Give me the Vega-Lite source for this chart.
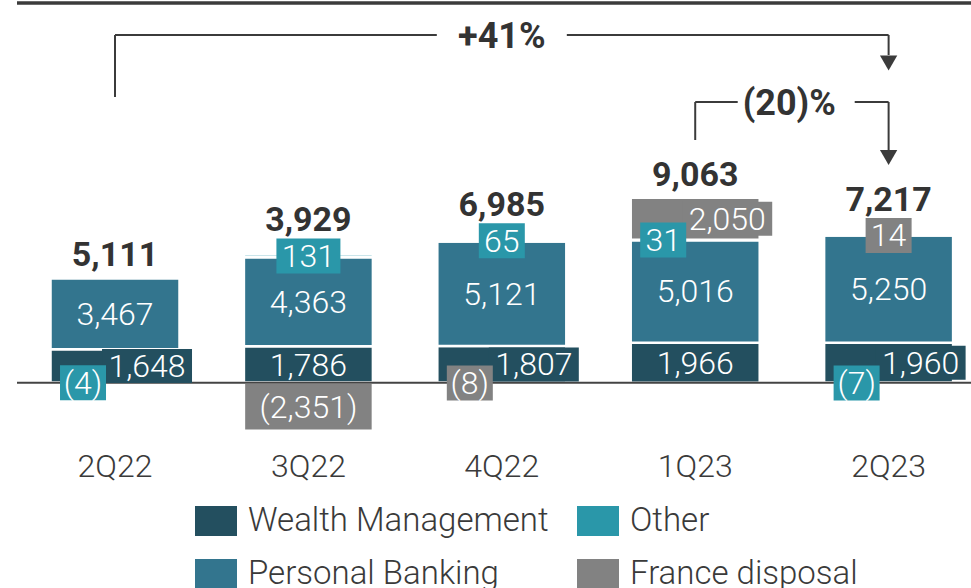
{
  "$schema": "https://vega.github.io/schema/vega-lite/v6.json",
  "width": 954,
  "height": 440,
  "autosize": {"type": "none"},
  "padding": {"left": 17, "top": 0, "right": 0, "bottom": 148},
  "background": "white",
  "config": {"view": {"stroke": null}, "font": "Roboto"},
  "datasets": {
    "seg": [
      {"quarter": "2Q22", "segment": "Wealth Management", "value": 1648},
      {"quarter": "2Q22", "segment": "Personal Banking", "value": 3467},
      {"quarter": "2Q22", "segment": "Other", "value": -4},
      {"quarter": "3Q22", "segment": "Wealth Management", "value": 1786},
      {"quarter": "3Q22", "segment": "Personal Banking", "value": 4363},
      {"quarter": "3Q22", "segment": "Other", "value": 131},
      {"quarter": "3Q22", "segment": "France disposal", "value": -2351},
      {"quarter": "4Q22", "segment": "Wealth Management", "value": 1807},
      {"quarter": "4Q22", "segment": "Personal Banking", "value": 5121},
      {"quarter": "4Q22", "segment": "Other", "value": 65},
      {"quarter": "4Q22", "segment": "France disposal", "value": -8},
      {"quarter": "1Q23", "segment": "Wealth Management", "value": 1966},
      {"quarter": "1Q23", "segment": "Personal Banking", "value": 5016},
      {"quarter": "1Q23", "segment": "Other", "value": 31},
      {"quarter": "1Q23", "segment": "France disposal", "value": 2050},
      {"quarter": "2Q23", "segment": "Wealth Management", "value": 1960},
      {"quarter": "2Q23", "segment": "Personal Banking", "value": 5250},
      {"quarter": "2Q23", "segment": "Other", "value": -7},
      {"quarter": "2Q23", "segment": "France disposal", "value": 14}
    ]
  },
  "layer": [
    {
      "data": {"values": [{}]},
      "mark": {"type": "rule", "strokeWidth": 3.5, "color": "#3b3b3b"},
      "encoding": {"y": {"datum": 18600, "type": "quantitative"}}
    },
    {
      "data": {"values": [{}]},
      "layer": [
        {"mark": {"type": "rule", "strokeWidth": 2, "color": "#3b3b3b"},
         "encoding": {"x": {"datum": "2Q22", "type": "nominal"}, "x2": {"datum": "2Q23"}, "y": {"datum": 17036, "type": "quantitative"}}},
        {"mark": {"type": "rule", "strokeWidth": 2, "color": "#3b3b3b"},
         "encoding": {"x": {"datum": "2Q22", "type": "nominal"}, "y": {"datum": 17036, "type": "quantitative"}, "y2": {"datum": 13999}}},
        {"mark": {"type": "rule", "strokeWidth": 2, "color": "#3b3b3b"},
         "encoding": {"x": {"datum": "2Q23", "type": "nominal"}, "y": {"datum": 17036, "type": "quantitative"}, "y2": {"datum": 16056}}},
        {"mark": {"type": "point", "shape": "triangle-down", "filled": true, "size": 300, "opacity": 1, "color": "#3b3b3b"},
         "encoding": {"x": {"datum": "2Q23", "type": "nominal"}, "y": {"datum": 15664, "type": "quantitative"}}},
        {"mark": {"type": "tick", "orient": "horizontal", "thickness": 10, "opacity": 1, "color": "white"},
         "encoding": {"x": {"datum": "4Q22", "type": "nominal"}, "y": {"datum": 17036, "type": "quantitative"}, "size": {"value": 130}}},
        {"mark": {"type": "text", "fontSize": 36, "fontWeight": "bold", "color": "#333333", "baseline": "middle", "dy": 2},
         "encoding": {"x": {"datum": "4Q22", "type": "nominal"}, "y": {"datum": 17036, "type": "quantitative"}, "text": {"value": "+41%"}}},
        {"mark": {"type": "rule", "strokeWidth": 2, "color": "#3b3b3b"},
         "encoding": {"x": {"datum": "1Q23", "type": "nominal"}, "x2": {"datum": "2Q23"}, "y": {"datum": 13754, "type": "quantitative"}}},
        {"mark": {"type": "rule", "strokeWidth": 2, "color": "#3b3b3b"},
         "encoding": {"x": {"datum": "1Q23", "type": "nominal"}, "y": {"datum": 13754, "type": "quantitative"}, "y2": {"datum": 11893}}},
        {"mark": {"type": "rule", "strokeWidth": 2, "color": "#3b3b3b"},
         "encoding": {"x": {"datum": "2Q23", "type": "nominal"}, "y": {"datum": 13754, "type": "quantitative"}, "y2": {"datum": 11403}}},
        {"mark": {"type": "point", "shape": "triangle-down", "filled": true, "size": 300, "opacity": 1, "color": "#3b3b3b"},
         "encoding": {"x": {"datum": "2Q23", "type": "nominal"}, "y": {"datum": 11036, "type": "quantitative"}}},
        {"mark": {"type": "tick", "orient": "horizontal", "thickness": 10, "opacity": 1, "color": "white", "xOffset": 101},
         "encoding": {"x": {"datum": "1Q23", "type": "nominal"}, "y": {"datum": 13754, "type": "quantitative"}, "size": {"value": 117}}},
        {"mark": {"type": "text", "fontSize": 36, "fontWeight": "bold", "color": "#333333", "baseline": "middle", "dy": 2, "xOffset": 94},
         "encoding": {"x": {"datum": "1Q23", "type": "nominal"}, "y": {"datum": 13754, "type": "quantitative"}, "text": {"value": "(20)%"}}}
      ]
    },
    {
      "data": {"name": "seg"},
      "transform": [
        {"calculate": "indexof(['Wealth Management','Personal Banking','Other','France disposal'], datum.segment)", "as": "ord"},
        {"stack": "value", "groupby": ["quarter"], "sort": [{"field": "ord", "order": "ascending"}], "as": ["v0", "v1"], "offset": "zero"},
        {"calculate": "(datum.v0 + datum.v1) / 2", "as": "mid"},
        {"calculate": "datum.value < 0 ? '(' + format(-datum.value, ',') + ')' : format(datum.value, ',')", "as": "lbl"},
        {"calculate": "abs(datum.value) < 200 ? ((datum.value < 0 || datum.quarter == '1Q23') ? 'left' : 'top') : (((datum.segment == 'Wealth Management' && indexof(['2Q22','4Q22','2Q23'], datum.quarter) >= 0) || (datum.segment == 'France disposal' && datum.quarter == '1Q23')) ? 'right' : 'in')", "as": "pos"}
      ],
      "layer": [
        {
          "mark": {"type": "bar", "stroke": "white", "strokeWidth": 2.5},
          "encoding": {
            "x": {"field": "quarter", "type": "nominal", "sort": null,
                  "scale": {"type": "band", "domain": ["2Q22", "3Q22", "4Q22", "1Q23", "2Q23"], "paddingInner": 0.333, "paddingOuter": 0.1329, "align": 0.652, "round": false},
                  "axis": {"title": null, "domain": false, "ticks": false, "labelAngle": 0, "labelAlign": "center", "labelFont": "Roboto", "labelFontSize": 32, "labelFontWeight": 300, "labelColor": "#3a3a3a", "labelPadding": 36.7, "labelBaseline": "alphabetic"}},
            "y": {"field": "v0", "type": "quantitative", "scale": {"domain": [-2800, 18750], "nice": false, "zero": false}, "axis": null},
            "y2": {"field": "v1"},
            "color": {"field": "segment", "type": "nominal",
                      "scale": {"domain": ["Wealth Management", "Personal Banking", "Other", "France disposal"], "range": ["#234f5f", "#33758e", "#2a97a9", "#828282"]},
                      "legend": {"title": null, "orient": "none", "legendX": 178, "legendY": 500, "columns": 2, "padding": 0,
                                 "symbolType": "M-1,-0.714H1V0.714H-1Z", "symbolSize": 1764, "symbolStrokeWidth": 0, "symbolOpacity": 1,
                                 "labelFont": "Roboto", "labelFontSize": 33, "labelFontWeight": 300, "labelColor": "#3a3a3a", "labelOffset": 11, "labelLimit": 500,
                                 "columnPadding": 28, "rowPadding": 15}}
          }
        },
        {
          "data": {"values": [{}]},
          "mark": {"type": "rule", "strokeWidth": 2, "color": "#444444"},
          "encoding": {"y": {"datum": 0, "type": "quantitative"}}
        },
        {
          "transform": [{"filter": "datum.pos == 'right'"}],
          "mark": {"type": "tick", "orient": "horizontal", "thickness": 34, "opacity": 1, "xOffset": 32},
          "encoding": {
            "x": {"field": "quarter", "type": "nominal"},
            "y": {"field": "mid", "type": "quantitative"},
            "size": {"value": 90},
            "color": {"field": "segment", "type": "nominal"}
          }
        },
        {
          "transform": [{"filter": "datum.pos == 'top'"}],
          "mark": {"type": "tick", "orient": "horizontal", "thickness": 35, "opacity": 1},
          "encoding": {
            "x": {"field": "quarter", "type": "nominal"},
            "y": {"field": "mid", "type": "quantitative"},
            "size": {"condition": {"test": "abs(datum.value) >= 100", "value": 64}, "value": 46},
            "color": {"field": "segment", "type": "nominal"}
          }
        },
        {
          "transform": [{"filter": "datum.pos == 'left'"}],
          "mark": {"type": "tick", "orient": "horizontal", "thickness": 35, "opacity": 1, "xOffset": -32},
          "encoding": {
            "x": {"field": "quarter", "type": "nominal"},
            "y": {"field": "mid", "type": "quantitative"},
            "size": {"value": 46},
            "color": {"field": "segment", "type": "nominal"}
          }
        },
        {
          "transform": [{"filter": "datum.pos == 'in' || datum.pos == 'top'"}],
          "mark": {"type": "text", "color": "white", "fontSize": 32, "fontWeight": 300, "baseline": "middle", "dy": 1},
          "encoding": {
            "x": {"field": "quarter", "type": "nominal"},
            "y": {"field": "mid", "type": "quantitative"},
            "text": {"field": "lbl"}
          }
        },
        {
          "transform": [{"filter": "datum.pos == 'left'"}],
          "mark": {"type": "text", "color": "white", "fontSize": 32, "fontWeight": 300, "baseline": "middle", "dy": 1, "xOffset": -32},
          "encoding": {
            "x": {"field": "quarter", "type": "nominal"},
            "y": {"field": "mid", "type": "quantitative"},
            "text": {"field": "lbl"}
          }
        },
        {
          "transform": [{"filter": "datum.pos == 'right'"}],
          "mark": {"type": "text", "color": "white", "fontSize": 32, "fontWeight": 300, "baseline": "middle", "dy": 1, "xOffset": 32},
          "encoding": {
            "x": {"field": "quarter", "type": "nominal"},
            "y": {"field": "mid", "type": "quantitative"},
            "text": {"field": "lbl"}
          }
        },
        {
          "transform": [
            {"joinaggregate": [{"op": "sum", "field": "value", "as": "net"}], "groupby": ["quarter"]},
            {"filter": "datum.value > 0"},
            {"aggregate": [{"op": "sum", "field": "value", "as": "posTop"}, {"op": "max", "field": "net", "as": "net"}], "groupby": ["quarter"]},
            {"calculate": "format(datum.net, ',')", "as": "netLbl"},
            {"filter": "indexof(['2Q22','1Q23'], datum.quarter) >= 0"}
          ],
          "mark": {"type": "text", "color": "#333333", "fontSize": 34, "fontWeight": "bold", "baseline": "alphabetic", "dy": -12},
          "encoding": {
            "x": {"field": "quarter", "type": "nominal"},
            "y": {"field": "posTop", "type": "quantitative"},
            "text": {"field": "netLbl"}
          }
        },
        {
          "transform": [
            {"joinaggregate": [{"op": "sum", "field": "value", "as": "net"}], "groupby": ["quarter"]},
            {"filter": "datum.value > 0"},
            {"aggregate": [{"op": "sum", "field": "value", "as": "posTop"}, {"op": "max", "field": "net", "as": "net"}], "groupby": ["quarter"]},
            {"calculate": "format(datum.net, ',')", "as": "netLbl"},
            {"filter": "indexof(['2Q22','1Q23'], datum.quarter) < 0"}
          ],
          "mark": {"type": "text", "color": "#333333", "fontSize": 34, "fontWeight": "bold", "baseline": "alphabetic", "dy": -24},
          "encoding": {
            "x": {"field": "quarter", "type": "nominal"},
            "y": {"field": "posTop", "type": "quantitative"},
            "text": {"field": "netLbl"}
          }
        }
      ]
    }
  ]
}
